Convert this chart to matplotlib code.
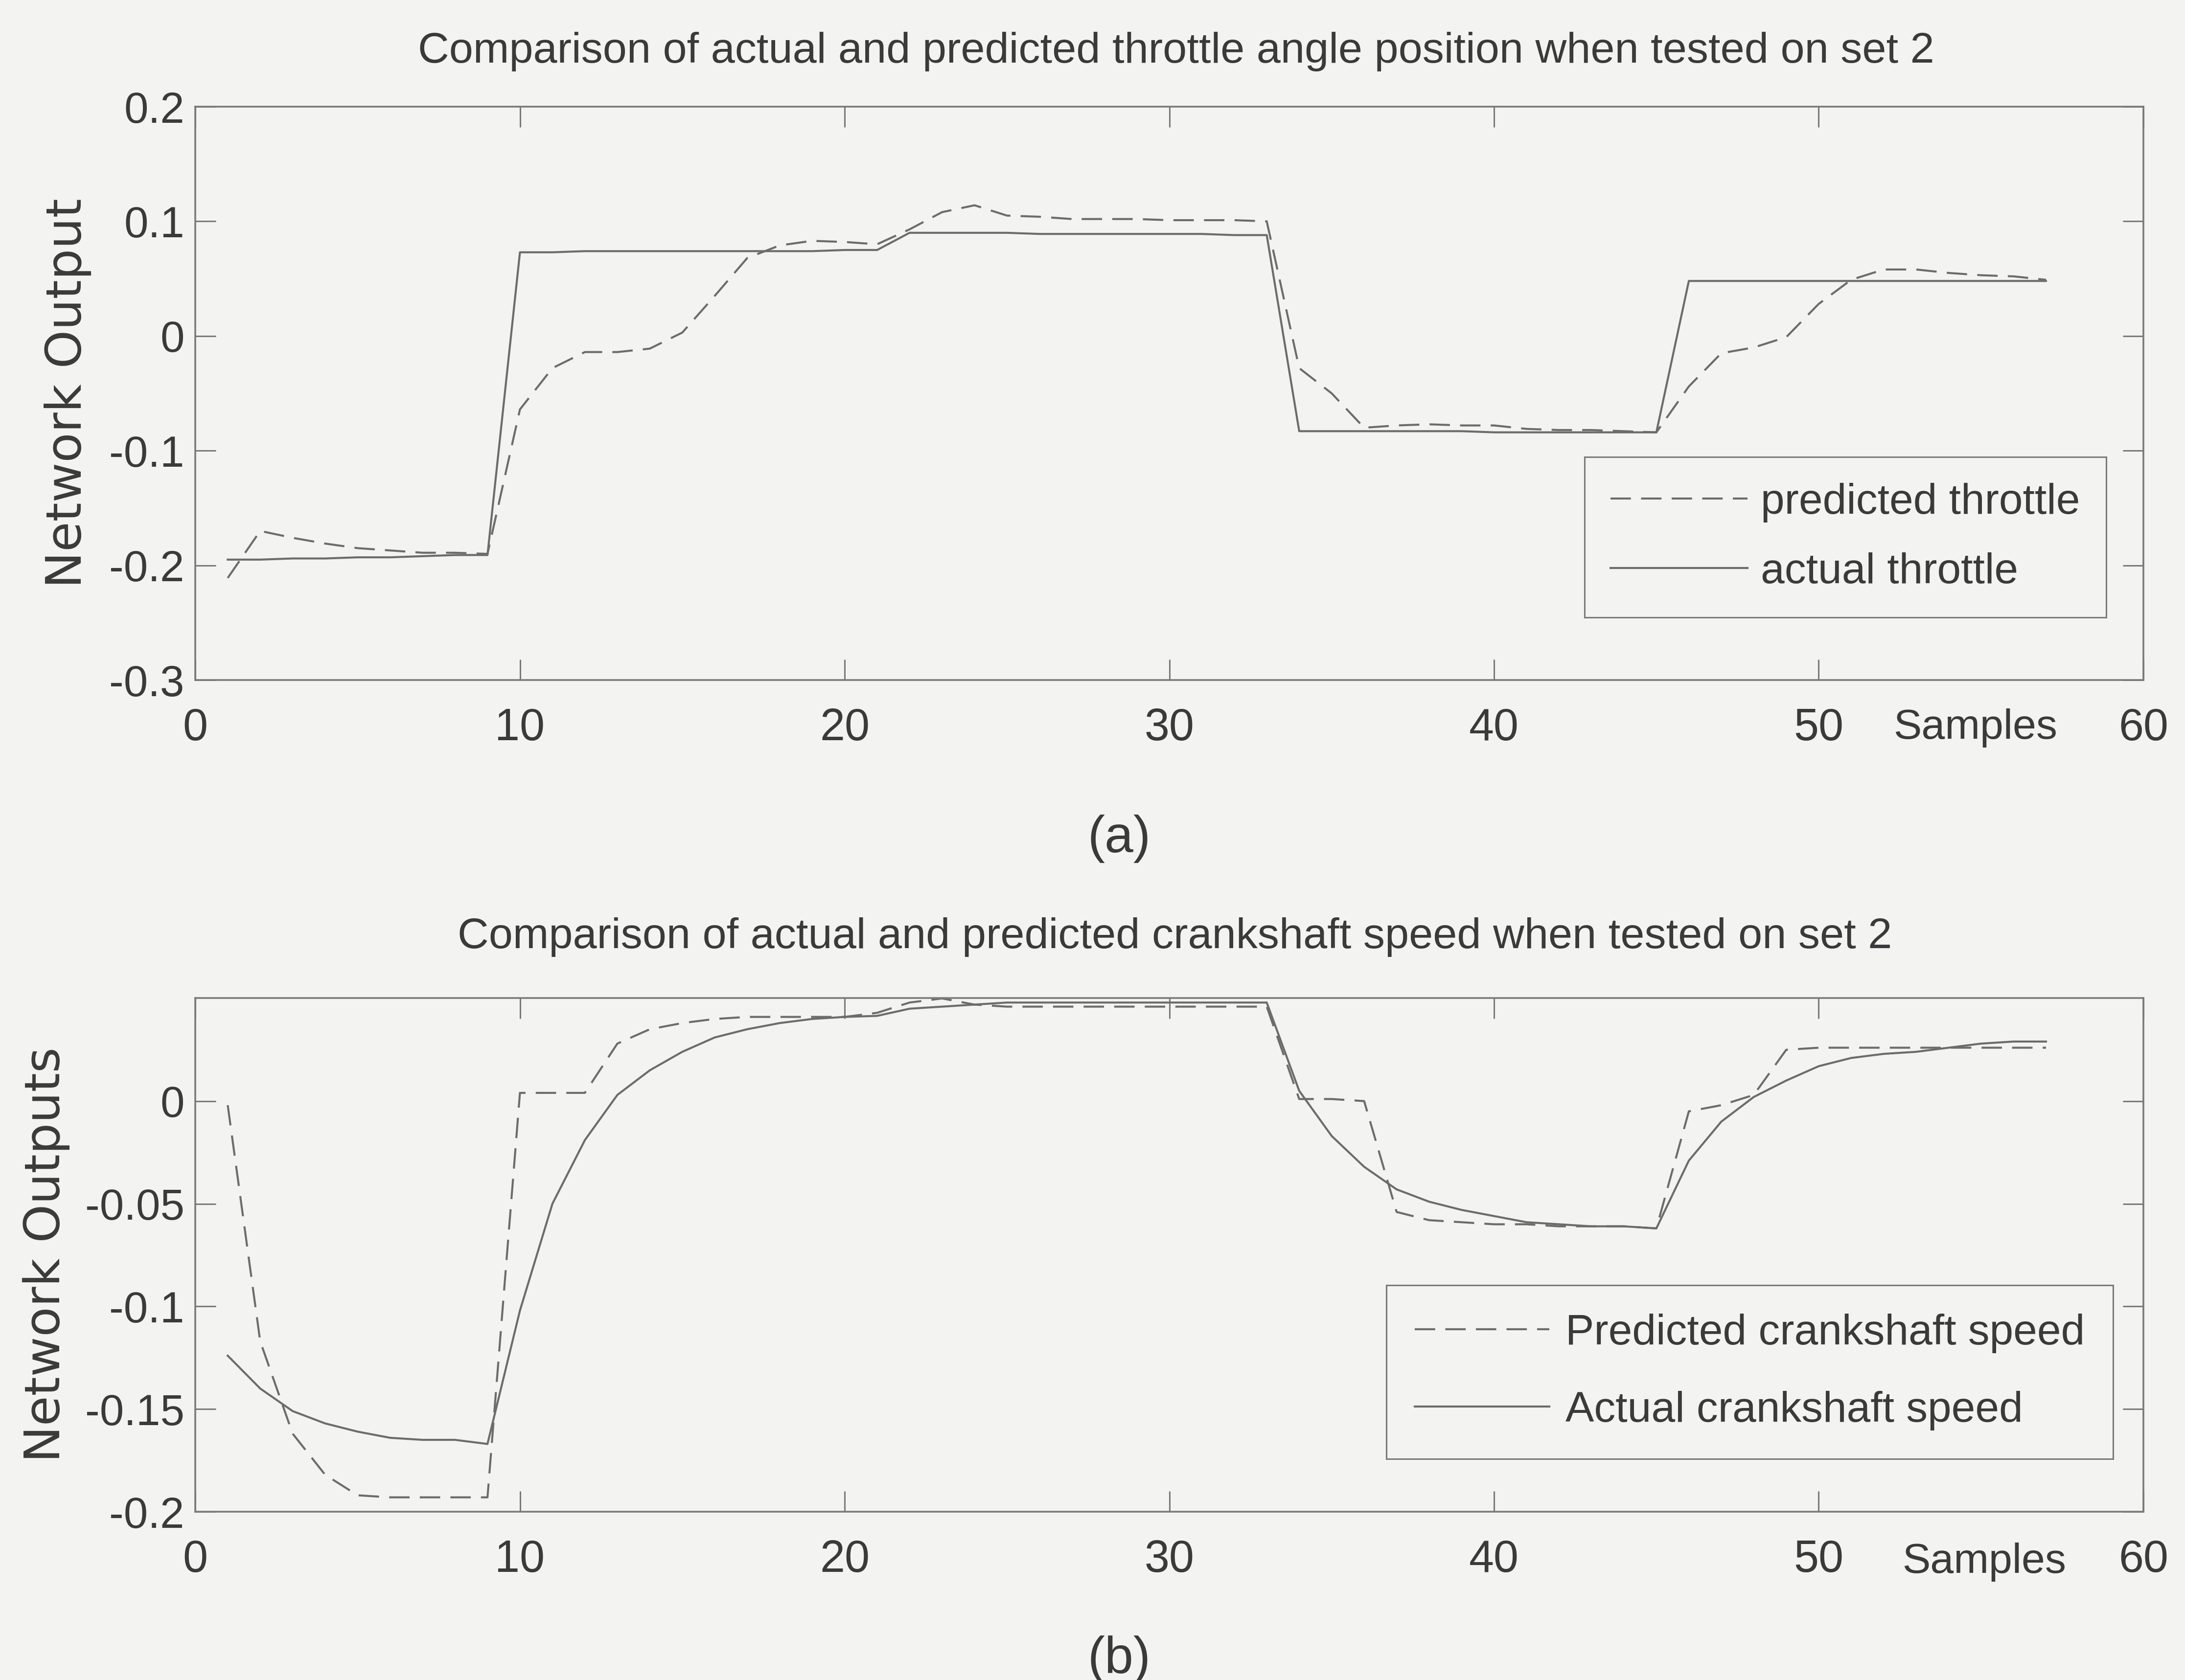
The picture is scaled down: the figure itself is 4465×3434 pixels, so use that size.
import matplotlib
matplotlib.use("Agg")
import matplotlib.pyplot as plt
from matplotlib import font_manager

# ---------------------------------------------------------------- data
samples = list(range(1, 58))

throttle_actual = [
    -0.195, -0.195, -0.194, -0.194, -0.193, -0.193, -0.192, -0.191, -0.191,
    0.073, 0.073, 0.074, 0.074, 0.074, 0.074, 0.074, 0.074, 0.074, 0.074, 0.075, 0.075,
    0.090, 0.090, 0.090, 0.090, 0.089, 0.089, 0.089, 0.089, 0.089, 0.089, 0.088, 0.088,
    -0.083, -0.083, -0.083, -0.083, -0.083, -0.083, -0.084, -0.084, -0.084, -0.084, -0.084, -0.084,
    0.048, 0.048, 0.048, 0.048, 0.048, 0.048, 0.048, 0.048, 0.048, 0.048, 0.048, 0.048,
]
throttle_predicted = [
    -0.211, -0.170, -0.176, -0.181, -0.185, -0.187, -0.189, -0.189, -0.190,
    -0.064, -0.028, -0.014, -0.014, -0.011, 0.003, 0.035, 0.068, 0.079, 0.083, 0.082, 0.080,
    0.093, 0.108, 0.114, 0.105, 0.104, 0.102, 0.102, 0.102, 0.101, 0.101, 0.101, 0.100,
    -0.028, -0.050, -0.080, -0.078, -0.077, -0.078, -0.078, -0.081, -0.082, -0.082, -0.083, -0.084,
    -0.044, -0.015, -0.010, -0.001, 0.028, 0.049, 0.058, 0.058, 0.055, 0.053, 0.052, 0.049,
]

crank_actual = [
    -0.124, -0.140, -0.151, -0.157, -0.161, -0.164, -0.165, -0.165, -0.167,
    -0.102, -0.050, -0.019, 0.003, 0.015, 0.024, 0.031, 0.035, 0.038, 0.040, 0.041, 0.0415,
    0.045, 0.046, 0.047, 0.048, 0.048, 0.048, 0.048, 0.048, 0.048, 0.048, 0.048, 0.048,
    0.005, -0.017, -0.032, -0.043, -0.049, -0.053, -0.056, -0.059, -0.060, -0.061, -0.061, -0.062,
    -0.029, -0.010, 0.002, 0.010, 0.017, 0.021, 0.023, 0.024, 0.026, 0.028, 0.029, 0.029,
]
crank_predicted = [
    -0.002, -0.117, -0.162, -0.182, -0.192, -0.193, -0.193, -0.193, -0.193,
    0.004, 0.004, 0.004, 0.028, 0.035, 0.038, 0.040, 0.041, 0.041, 0.041, 0.041, 0.043,
    0.048, 0.050, 0.047, 0.046, 0.046, 0.046, 0.046, 0.046, 0.046, 0.046, 0.046, 0.046,
    0.001, 0.001, 0.000, -0.054, -0.058, -0.059, -0.060, -0.060, -0.061, -0.061, -0.061, -0.062,
    -0.005, -0.002, 0.003, 0.025, 0.026, 0.026, 0.026, 0.026, 0.026, 0.026, 0.026, 0.026,
]

x_ticks = [0, 10, 20, 30, 40, 50, 60]
x_tick_labels = ["0", "10", "20", "30", "40", "50", "60"]
top_y_ticks = [-0.3, -0.2, -0.1, 0.0, 0.1, 0.2]
top_y_tick_labels = ["-0.3", "-0.2", "-0.1", "0", "0.1", "0.2"]
bottom_y_ticks = [-0.2, -0.15, -0.1, -0.05, 0.0]
bottom_y_tick_labels = ["-0.2", "-0.15", "-0.1", "-0.05", "0"]

title_top = "Comparison of actual and predicted throttle angle position when tested on set 2"
title_bottom = "Comparison of actual and predicted crankshaft speed when tested on set 2"
legend_top = ["predicted throttle", "actual throttle"]
legend_bottom = ["Predicted crankshaft speed", "Actual crankshaft speed"]

# ---------------------------------------------------------------- style
W, H = 4465, 3434
DPI = 100
PAGE = "#f3f3f1"
INK = "#3a3a3a"
LINE = "#6c6c6c"
FRAME = "#7a7a7a"

available = {f.name for f in font_manager.fontManager.ttflist}
REGULAR = [f for f in ["Liberation Sans", "DejaVu Sans"] if f in available] or ["DejaVu Sans"]
LABEL_FONT = ["DejaVu Sans"]

plt.rcParams["font.family"] = REGULAR
plt.rcParams["axes.unicode_minus"] = False


def fx(px):
    return px / W


def fy(py):
    return 1 - py / H


fig = plt.figure(figsize=(W / DPI, H / DPI), dpi=DPI, facecolor=PAGE)

ax1 = fig.add_axes([fx(399), fy(1390), (4380 - 399) / W, (1390 - 218) / H])
ax2 = fig.add_axes([fx(399), fy(3090), (4380 - 399) / W, (3090 - 2040) / H])

dash = (0, (10, 5))
LW = 3.0

ax1.plot(samples, throttle_predicted, color=LINE, lw=LW, linestyle=dash, label=legend_top[0])
ax1.plot(samples, throttle_actual, color=LINE, lw=LW, linestyle="-", label=legend_top[1])
ax2.plot(samples, crank_predicted, color=LINE, lw=LW, linestyle=dash, label=legend_bottom[0])
ax2.plot(samples, crank_actual, color=LINE, lw=LW, linestyle="-", label=legend_bottom[1])

ax1.set_ylim(-0.3, 0.2)
ax2.set_ylim(-0.2, 0.0502)

for ax, yt, ytl in ((ax1, top_y_ticks, top_y_tick_labels),
                    (ax2, bottom_y_ticks, bottom_y_tick_labels)):
    ax.set_facecolor(PAGE)
    ax.set_xlim(0, 60)
    ax.set_xticks(x_ticks)
    ax.set_xticklabels(x_tick_labels, fontsize=66, color=INK)
    ax.set_yticks(yt)
    ax.set_yticklabels(ytl, fontsize=64, color=INK)
    ax.tick_params(axis="both", direction="in", length=30, width=2.2,
                   color=FRAME, top=True, right=True)
    ax.tick_params(axis="x", pad=40)
    ax.tick_params(axis="y", pad=16)
    for sp in ax.spines.values():
        sp.set_color(FRAME)
        sp.set_linewidth(2.6)

# titles
fig.text(fx(2403), fy(128), title_top, fontsize=63.5,
         color=INK, ha="center", va="baseline")
fig.text(fx(2401), fy(1938), title_bottom, fontsize=63.5,
         color=INK, ha="center", va="baseline")

# axis labels
fig.text(fx(139), fy(804), "Network Output", family=LABEL_FONT, fontsize=72,
         color=INK, rotation=90, ha="center", va="center")
fig.text(fx(95), fy(2565), "Network Outputs", family=LABEL_FONT, fontsize=72,
         color=INK, rotation=90, ha="center", va="center")
fig.text(fx(4037), fy(1510), "Samples", fontsize=62,
         color=INK, ha="center", va="baseline")
fig.text(fx(4055), fy(3215), "Samples", fontsize=62,
         color=INK, ha="center", va="baseline")

# panel captions
fig.text(fx(2287), fy(1714), "(a)", fontsize=76, color=INK, ha="center", va="center")
fig.text(fx(2287), fy(3392), "(b)", fontsize=76, color=INK, ha="center", va="center")

# legends
common = dict(loc="upper left", bbox_transform=fig.transFigure, frameon=True,
              fancybox=False, framealpha=1.0, facecolor=PAGE, edgecolor=FRAME,
              borderaxespad=0, prop={"size": 63})
lg1 = ax1.legend(bbox_to_anchor=(fx(3238), fy(934)), borderpad=0.6,
                 labelspacing=0.7, handlelength=3.2, handletextpad=0.32, **common)
lg2 = ax2.legend(bbox_to_anchor=(fx(2833), fy(2627)), borderpad=0.66,
                 labelspacing=0.88, handlelength=3.14, handletextpad=0.38, **common)
for lg in (lg1, lg2):
    lg.get_frame().set_linewidth(2.2)
    for t in lg.get_texts():
        t.set_color(INK)

fig.savefig("out.png", dpi=DPI, facecolor=PAGE)
